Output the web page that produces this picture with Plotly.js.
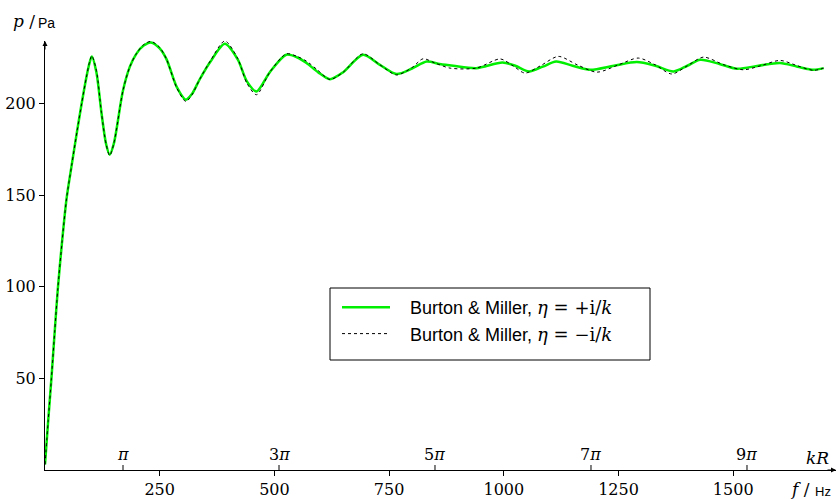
<!DOCTYPE html>
<html>
<head>
<meta charset="utf-8">
<script src="https://cdn.plot.ly/plotly-3.0.1.min.js"></script>
<style>html,body{margin:0;padding:0;background:#fff;}#chart{width:837px;height:499px;}</style>
</head>
<body>
<div id="chart"></div>
<script>
// Frequency f in Hz, pressure p in Pa
const fPlus = [0,7,14,21,28,37,47,58,70,80,90,97,102,112,123,133,141,150,170,185,199,215,231,250,265,287,307,320,337,360,392,420,440,461,490,526,550,570,595,621,650,693,730,766,800,832,860,890,940,997,1025,1055,1085,1114,1150,1188,1240,1290,1330,1370,1400,1428,1470,1508,1555,1602,1640,1675,1697];
const pPlus = [3,27,50,75,99,124,148,166,185,200,214,222,225.6,217,195,178,172,178,207,220,227,231.5,233.2,230,224,209,202,205,213,222.5,232.5,224,212,206.5,217,226.5,225,222,217,213.2,217,226.5,221,216,219,222.8,221.5,220.5,219.2,222.3,220.5,217.4,220,222.8,220.5,218.3,220.5,222.5,220.5,217.4,220.5,223.8,221.5,218.9,220.5,222,220,218.3,219.2];
const fMinus = [0,7,14,21,28,37,47,58,70,80,90,97,102,112,123,133,141,150,170,185,199,215,231,250,265,287,307,320,337,360,392,420,440,461,490,526,550,570,595,621,650,693,730,766,800,824,850,883,940,992,1020,1046,1080,1119,1160,1203,1250,1293,1330,1366,1400,1435,1480,1522,1560,1602,1640,1675,1697];
const pMinus = [3,27,50,75,99,124,148,166,185,200,214,222.5,226,218,195,178,171.5,178,207,220,227,232,233.8,230.5,224,208.5,201,204.5,213,223,234,224.5,211,204.7,217,227,225.5,223,218,213,217,227,221,215.5,219.5,224.3,222,219.2,219.2,224.2,220.5,216.5,220.5,225.6,221,217,221,224.7,221,216,220.5,225.2,221,218.3,220.5,223.4,220.5,218,219.2];
const xTicks = [250,500,750,1000,1250,1500];
const yTicks = [50,100,150,200];
const kRFreq = [170,510,850,1190,1530];
const kRLabels = ['π','3π','5π','7π','9π'];
const legendPlus = 'Burton &amp; Miller, <span style="font-family:\'DejaVu Serif\'"><i>η</i> = +i/<i>k</i></span>';
const legendMinus = 'Burton &amp; Miller, <span style="font-family:\'DejaVu Serif\'"><i>η</i> = −i/<i>k</i></span>';

const ML=45, MR=1, MT=41, MB=29, W=837, H=499;
const PW=W-ML-MR, PH=H-MT-MB;
const px = v => (v-ML)/PW;
const py = v => (H-MB-v)/PH;
const serif = 'DejaVu Serif, serif';
const sans = 'Liberation Sans, Arial, sans-serif';

const traces = [
  {x:fPlus, y:pPlus, type:'scatter', mode:'lines', name:'&nbsp;&nbsp;&nbsp;'+legendPlus, legendgroup:'a',
   line:{color:'#00ee00', width:2.5, shape:'spline', smoothing:0.8}},
  {x:fMinus, y:pMinus, type:'scatter', mode:'lines', name:'&nbsp;&nbsp;&nbsp;'+legendMinus, legendgroup:'b',
   line:{color:'#000', width:1, dash:'3px,3px', shape:'spline', smoothing:0.8}}
];

const ann = (x,y,text,font)=>({x:px(x), y:py(y), xref:'paper', yref:'paper', text:text, showarrow:false,
  xanchor:'center', yanchor:'middle', font:font});
const annotations = [];
kRFreq.forEach((f,i)=>{
  annotations.push({x:f, y:0, xref:'x', yref:'y', text:kRLabels[i].replace('π','<i>π</i>'), showarrow:false,
    xanchor:'center', yanchor:'bottom', yshift:4, font:{family:serif, size:16, color:'#000'}});
});
annotations.push(ann(817, 458, '<i>kR</i>', {family:serif, size:17, color:'#000'}));
annotations.push(ann(800, 489, '<i>f</i> /', {family:serif, size:17, color:'#000'}));
annotations.push(ann(823, 491, 'Hz', {family:sans, size:13, color:'#000'}));
annotations.push(ann(24, 21, '<i>p</i> /', {family:serif, size:17, color:'#000'}));
annotations.push(ann(46, 23, 'Pa', {family:sans, size:14, color:'#000'}));
// axis arrows
annotations.push({x:1, y:0, xref:'paper', yref:'paper', ax:-10, ay:0, text:'', showarrow:true,
  arrowhead:2, arrowsize:1, arrowwidth:1, arrowcolor:'#000'});
annotations.push({x:0, y:1, xref:'paper', yref:'paper', ax:0, ay:10, text:'', showarrow:true,
  arrowhead:2, arrowsize:1, arrowwidth:1, arrowcolor:'#000'});

const shapes = kRFreq.map(f=>({type:'line', xref:'x', yref:'y', x0:f, x1:f,
  ysizemode:'pixel', yanchor:0, y0:0, y1:5, line:{color:'#000', width:1}}));
// legend frame
shapes.push({type:'rect', xref:'paper', yref:'paper', x0:px(330), x1:px(650), y0:py(288), y1:py(360),
  line:{color:'#000', width:1}, fillcolor:'#fff', layer:'above'});

const layout = {
  width:W, height:H, margin:{l:ML, r:MR, t:MT, b:MB},
  paper_bgcolor:'#fff', plot_bgcolor:'#fff',
  showlegend:true,
  legend:{x:px(337), y:py(289), xanchor:'left', yanchor:'top', bgcolor:'rgba(0,0,0,0)',
    borderwidth:0, font:{family:sans, size:18, color:'#000'},
    traceorder:'grouped', tracegroupgap:0, itemwidth:48},
  xaxis:{range:[0,1724], showgrid:false, zeroline:false, showline:true, linecolor:'#000', linewidth:1,
    ticks:'outside', ticklen:5, tickcolor:'#000', tickwidth:1, tickvals:xTicks,
    tickfont:{family:serif, size:16, color:'#000'}, fixedrange:true},
  yaxis:{range:[0,234], showgrid:false, zeroline:false, showline:true, linecolor:'#000', linewidth:1,
    ticks:'outside', ticklen:5, tickcolor:'#000', tickwidth:1, tickvals:yTicks,
    tickfont:{family:serif, size:16, color:'#000'}, fixedrange:true},
  annotations:annotations, shapes:shapes
};
Plotly.newPlot('chart', traces, layout, {displayModeBar:false, staticPlot:true});
</script>
</body>
</html>
